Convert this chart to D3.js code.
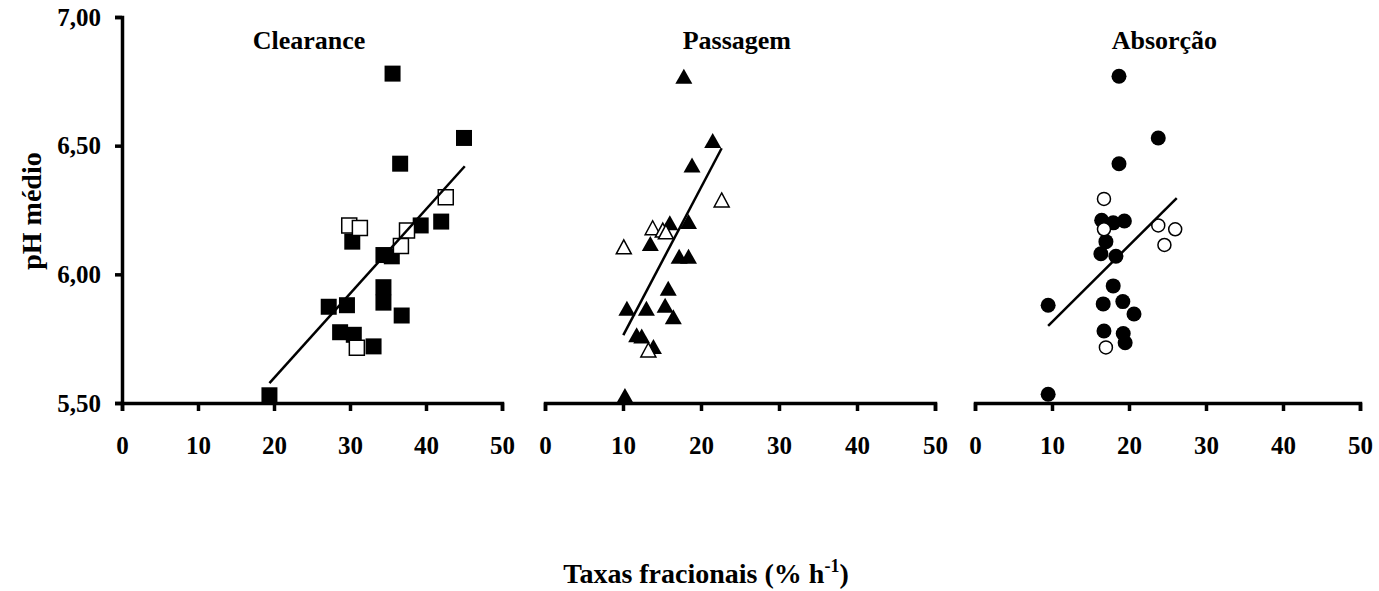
<!DOCTYPE html>
<html>
<head>
<meta charset="utf-8">
<script src="https://cdn.jsdelivr.net/npm/d3@7"></script>
<style>
  body { margin: 0; background: #fff; }
  svg { font-family: "Liberation Serif", "Times New Roman", serif; font-weight: bold; }
</style>
</head>
<body>
<svg id="chart" width="1379" height="591"></svg>
<script>
// titles and ticks
var panelNames = ["Clearance", "Passagem", "Absorção"];
var xTicks = [0, 10, 20, 30, 40, 50];
var yTicks = [5.5, 6.0, 6.5, 7.0];

// Clearance (squares)
var clearanceX = [35.6, 45.0, 36.6, 39.3, 42.0, 30.3, 34.4, 35.5, 34.4, 34.4, 36.8, 27.2, 29.6, 28.7, 30.5, 33.1, 19.4];
var clearanceY = [6.78, 6.53, 6.43, 6.19, 6.205, 6.127, 6.075, 6.07, 5.95, 5.89, 5.84, 5.874, 5.88, 5.775, 5.765, 5.72, 5.53];
var clearanceOpenX = [29.9, 31.3, 37.5, 36.7, 42.6, 30.9];
var clearanceOpenY = [6.19, 6.18, 6.17, 6.11, 6.30, 5.715];
var clearanceFit = [19.4, 5.577, 45.1, 6.42];

// Passagem (triangles)
var passagemX = [17.8, 21.5, 18.85, 16.0, 18.4, 13.5, 17.2, 18.4, 15.8, 10.5, 13.0, 15.4, 16.45, 11.75, 12.4, 13.9, 10.25];
var passagemY = [6.77, 6.52, 6.425, 6.20, 6.205, 6.12, 6.07, 6.07, 5.946, 5.868, 5.868, 5.88, 5.835, 5.765, 5.76, 5.72, 5.529];
var passagemOpenX = [10.1, 13.8, 15.1, 15.5, 22.65, 13.25];
var passagemOpenY = [6.107, 6.181, 6.172, 6.165, 6.289, 5.706];
var passagemFit = [10.04, 5.764, 22.65, 6.49];

// Absorção (circles)
var absorcaoX = [18.7, 23.8, 18.7, 16.45, 17.95, 19.4, 17.0, 16.35, 18.3, 17.95, 9.5, 16.65, 19.2, 20.65, 16.75, 19.25, 19.5, 9.5];
var absorcaoY = [6.77, 6.53, 6.43, 6.21, 6.20, 6.207, 6.127, 6.08, 6.07, 5.955, 5.88, 5.885, 5.894, 5.846, 5.78, 5.77, 5.734, 5.534];
var absorcaoOpenX = [16.75, 16.75, 23.8, 26.0, 24.6, 17.0];
var absorcaoOpenY = [6.293, 6.175, 6.19, 6.175, 6.114, 5.716];
var absorcaoFit = [9.5, 5.80, 26.2, 6.296];

var svg = d3.select("#chart");

var yTop = 17, yBottom = 403;
var panelRanges = [[122, 502], [545, 935], [975, 1360]];
var markers = ["square", "triangle", "circle"];
var panelData = [
  { x: clearanceX, y: clearanceY, ox: clearanceOpenX, oy: clearanceOpenY, fit: clearanceFit },
  { x: passagemX, y: passagemY, ox: passagemOpenX, oy: passagemOpenY, fit: passagemFit },
  { x: absorcaoX, y: absorcaoY, ox: absorcaoOpenX, oy: absorcaoOpenY, fit: absorcaoFit }
];

let yScale = d3.scaleLinear().domain([5.5, 7.0]).range([yBottom, yTop]);
let fmt = d3.format(".2f");

// marker shapes
var shapePath = function(kind, open) {
  if (kind === "square") {
    let s = open ? 15 : 16;
    return "M" + (-s / 2) + "," + (-s / 2) + "h" + s + "v" + s + "h" + (-s) + "Z";
  }
  if (kind === "triangle") {
    let w = open ? 15 : 17, h = open ? 14 : 15;
    return "M0," + (-h / 2) + "L" + (w / 2) + "," + (h / 2) + "L" + (-w / 2) + "," + (h / 2) + "Z";
  }
  let r = open ? 6.5 : 7.5;
  return "M" + r + ",0A" + r + "," + r + " 0 1,1 " + (-r) + ",0A" + r + "," + r + " 0 1,1 " + r + ",0Z";
};

// y axis (only on first panel)
let yGroup = svg.append("g")
  .attr("transform", "translate(" + panelRanges[0][0] + ",0)")
  .call(d3.axisLeft(yScale).tickValues(yTicks).tickSize(7).tickPadding(14)
    .tickFormat(d => fmt(d).replace(".", ",")));
yGroup.selectAll("path, line").attr("stroke", "#000").attr("stroke-width", 3.5);
yGroup.selectAll("text").style("font-size", "25px").style("font-family", "Liberation Serif")
  .style("font-weight", "bold").attr("fill", "#000");

panelData.forEach(function(p, i) {
  let xScale = d3.scaleLinear().domain([0, 50]).range(panelRanges[i]);

  let xGroup = svg.append("g")
    .attr("transform", "translate(0," + yBottom + ")")
    .call(d3.axisBottom(xScale).tickValues(xTicks).tickSize(8).tickPadding(25));
  xGroup.selectAll("path, line").attr("stroke", "#000").attr("stroke-width", 3.5);
  xGroup.selectAll("text").style("font-size", "25px").style("font-family", "Liberation Serif")
    .style("font-weight", "bold").attr("fill", "#000");

  // panel title
  svg.append("text")
    .text(panelNames[i])
    .attr("x", xScale(24.6))
    .attr("y", 49)
    .attr("text-anchor", "middle")
    .style("font-size", "26px")
    .attr("fill", "#000");

  let plot = svg.append("g");

  // filled markers
  plot.selectAll("path.filled")
    .data(p.x)
    .enter().append("path")
    .attr("class", "filled")
    .attr("d", shapePath(markers[i], false))
    .attr("transform", (d, j) => "translate(" + xScale(d) + "," + yScale(p.y[j]) + ")")
    .attr("fill", "#000");

  // open markers
  plot.selectAll("path.open")
    .data(p.ox)
    .enter().append("path")
    .attr("class", "open")
    .attr("d", shapePath(markers[i], true))
    .attr("transform", (d, j) => "translate(" + xScale(d) + "," + yScale(p.oy[j]) + ")")
    .attr("fill", "#fff")
    .attr("stroke", "#000")
    .attr("stroke-width", 1.5);

  // regression line
  plot.append("line")
    .attr("x1", xScale(p.fit[0]))
    .attr("y1", yScale(p.fit[1]))
    .attr("x2", xScale(p.fit[2]))
    .attr("y2", yScale(p.fit[3]))
    .attr("stroke", "#000")
    .attr("stroke-width", 2.5);
});

// Axis titles
svg.append("text")
  .attr("transform", "translate(41,211) rotate(-90)")
  .attr("text-anchor", "middle")
  .style("font-size", "28px")
  .attr("fill", "#000")
  .text("pH médio");

let xTitle = svg.append("text")
  .attr("x", 706)
  .attr("y", 583)
  .attr("text-anchor", "middle")
  .style("font-size", "28px")
  .attr("fill", "#000");
xTitle.append("tspan").text("Taxas fracionais (% h");
xTitle.append("tspan").text("-1").style("font-size", "18px").attr("dy", -11);
xTitle.append("tspan").text(")").attr("dy", 11);
</script>
</body>
</html>
